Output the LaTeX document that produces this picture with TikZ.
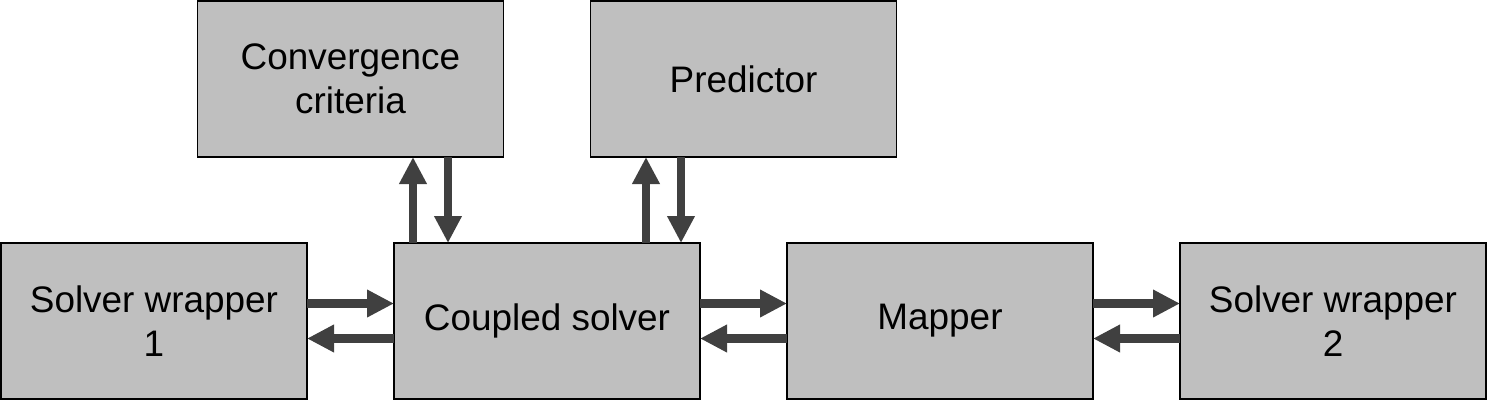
\documentclass[tikz,border=0pt]{standalone}
\usepackage{fontspec}
\setmainfont{Liberation Sans}
\usepackage{tikz}
\usetikzlibrary{arrows.meta,shapes,positioning}
\usepackage{xcolor}
\definecolor{csgray}{RGB}{191,191,191}
\definecolor{csdark}{RGB}{64,64,64}
\tikzstyle{block} = [rectangle, minimum width=6.12cm, minimum height=3.12cm, text centered, align=center, draw=black, fill=csgray, line width=1.1pt, outer sep=0pt, font=\fontsize{21}{25}\selectfont]
\tikzstyle{arrow} = [line width=5pt,-{Triangle[length=0.54cm,width=0.52cm]},color=csdark]

\begin{document}
\begin{tikzpicture}[node distance=1.74cm]
\useasboundingbox (0,0) rectangle (29.76,-8.02);
\node[block] (sw1) at (3.08,-6.42) {Solver wrapper\\1};
\node[block, right=of sw1] (cs) {Coupled solver};
\node[block, right=of cs] (map) {Mapper};
\node[block, right=of map] (sw2) {Solver wrapper\\2};
\node[block, above=1.72cm of cs, xshift=-3.93cm] (conv) {Convergence\\criteria};
\node[block, above=1.72cm of cs, xshift=3.93cm] (pred) {Predictor};
% horizontal links
\draw[arrow] ([yshift=0.35cm]sw1.east) -- ([yshift=0.35cm]cs.west);
\draw[arrow] ([yshift=-0.35cm]cs.west) -- ([yshift=-0.35cm]sw1.east);
\draw[arrow] ([yshift=0.35cm]cs.east) -- ([yshift=0.35cm]map.west);
\draw[arrow] ([yshift=-0.35cm]map.west) -- ([yshift=-0.35cm]cs.east);
\draw[arrow] ([yshift=0.35cm]map.east) -- ([yshift=0.35cm]sw2.west);
\draw[arrow] ([yshift=-0.35cm]sw2.west) -- ([yshift=-0.35cm]map.east);
% vertical links
\draw[arrow] ([xshift=-2.68cm]cs.north) -- ([xshift=-2.68cm]cs.north |- conv.south);
\draw[arrow] ([xshift=-1.98cm]cs.north |- conv.south) -- ([xshift=-1.98cm]cs.north);
\draw[arrow] ([xshift=1.98cm]cs.north) -- ([xshift=1.98cm]cs.north |- pred.south);
\draw[arrow] ([xshift=2.68cm]cs.north |- pred.south) -- ([xshift=2.68cm]cs.north);
\end{tikzpicture}
\end{document}
